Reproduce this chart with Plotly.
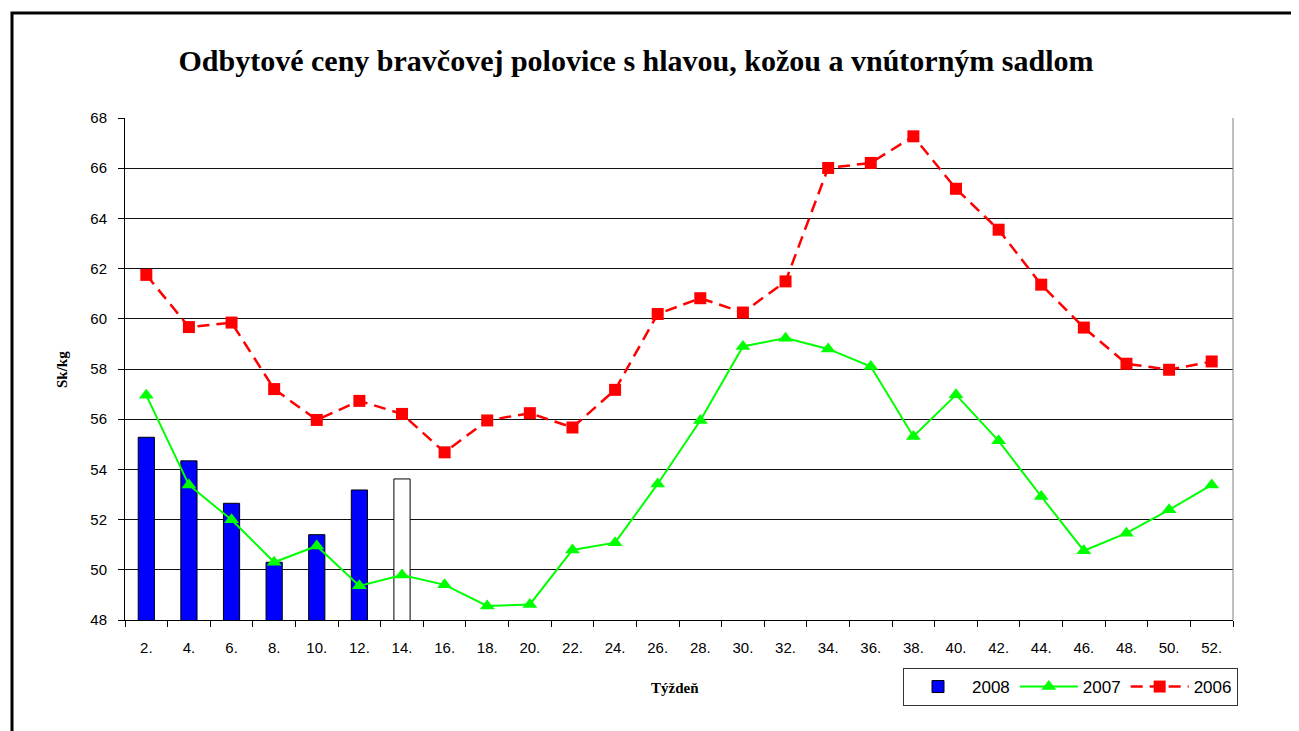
import plotly.graph_objects as go

weeks = ["2.", "4.", "6.", "8.", "10.", "12.", "14.", "16.", "18.", "20.", "22.", "24.", "26.",
         "28.", "30.", "32.", "34.", "36.", "38.", "40.", "42.", "44.", "46.", "48.", "50.", "52."]

prices_2008 = [55.28, 54.34, 52.65, 50.30, 51.40, 53.18, 53.62]
colors_2008 = ["#0000FF"] * 6 + ["#FFFFFF"]

prices_2007 = [56.95, 53.38, 51.99, 50.30, 50.95, 49.36, 49.79, 49.40, 48.56, 48.62, 50.79, 51.08, 53.42,
               55.95, 58.90, 59.23, 58.80, 58.10, 55.31, 56.97, 55.14, 52.92, 50.76, 51.46, 52.39, 53.38]

prices_2006 = [61.75, 59.67, 59.85, 57.20, 55.97, 56.73, 56.21, 54.68, 55.95, 56.24, 55.67, 57.17, 60.19,
               60.82, 60.25, 61.49, 66.01, 66.21, 67.27, 65.18, 63.55, 61.36, 59.65, 58.21, 57.97, 58.30]

# the page body adds an 8px offset; work in target-pixel coordinates and shift
OFF = 8
W, H = 1299 - OFF, 731 - OFF
L, R, T, B = 125, 1233, 118, 620


def px(x):
    return (x - L) / (R - L)


def py(y):
    return (B - y) / (B - T)


fig = go.Figure()
fig.add_trace(go.Bar(
    x=weeks[:len(prices_2008)], y=prices_2008, name="2008",
    marker=dict(color=colors_2008, line=dict(color="#000000", width=1)),
    width=0.38,
))
fig.add_trace(go.Scatter(
    x=weeks, y=prices_2007, name="2007", mode="lines+markers",
    line=dict(color="#00FF00", width=2),
    marker=dict(symbol="triangle-up", size=13, color="#00FF00"),
))
fig.add_trace(go.Scatter(
    x=weeks, y=prices_2006, name="2006", mode="lines+markers",
    line=dict(color="#FF0000", width=2.5, dash="12px,7px"),
    marker=dict(symbol="square", size=12, color="#FF0000"),
))

serif = "Liberation Serif, Times New Roman, serif"
sans = "Liberation Sans, Arial, sans-serif"

fig.update_layout(
    width=W, height=H,
    margin=dict(l=L - OFF, r=(W + OFF) - R, t=T - OFF, b=(H + OFF) - B, autoexpand=False),
    paper_bgcolor="white", plot_bgcolor="white",
    showlegend=True,
    title=dict(text="<b>Odbytové ceny bravčovej polovice s hlavou, kožou a vnútorným sadlom</b>",
               x=px(636), xref="paper", xanchor="center",
               y=1 - (60 - OFF) / H, yref="container", yanchor="middle",
               font=dict(family=serif, size=30, color="#000000")),
    legend=dict(orientation="h", x=px(903), y=py(668), xanchor="left", yanchor="top",
                bordercolor="#333333", borderwidth=1, bgcolor="white",
                font=dict(family=sans, size=17, color="#000000"),
                itemwidth=58, traceorder="normal"),
)

fig.update_xaxes(
    type="category", categoryorder="array", categoryarray=weeks,
    range=[-0.5, len(weeks) - 0.5],
    showgrid=False, showline=True, linecolor="#000000", linewidth=1,
    ticks="outside", tickson="boundaries", ticklen=6, tickcolor="#000000",
    tickfont=dict(family=sans, size=15, color="#000000"),
    ticklabelstandoff=14, zeroline=False,
)
fig.update_yaxes(
    range=[48, 68], dtick=2, tick0=48,
    showgrid=True, gridcolor="#111111", gridwidth=1,
    showline=True, linecolor="#000000", linewidth=1,
    ticks="outside", ticklen=6, tickcolor="#000000",
    tickfont=dict(family=sans, size=15, color="#000000"),
    ticklabelstandoff=8, zeroline=False,
)

fig.add_annotation(text="<b>Sk/kg</b>", x=px(62), y=py(370), xref="paper", yref="paper",
                   xanchor="center", yanchor="middle",
                   textangle=-90, showarrow=False, font=dict(family=serif, size=15, color="#000000"))
fig.add_annotation(text="<b>Týždeň</b>", x=px(675), y=py(688), xref="paper", yref="paper",
                   xanchor="center", yanchor="middle",
                   showarrow=False, font=dict(family=serif, size=15, color="#000000"))

# right edge of plot area
fig.add_shape(type="line", xref="paper", yref="paper", x0=1, x1=1, y0=0, y1=1,
              line=dict(color="#808080", width=1))
# outer chart frame
fig.add_shape(type="rect", xref="paper", yref="paper",
              x0=px(12), x1=px(1297), y0=py(13), y1=py(745),
              line=dict(color="#000000", width=3), fillcolor="rgba(0,0,0,0)")

fig.write_html("out.html")
